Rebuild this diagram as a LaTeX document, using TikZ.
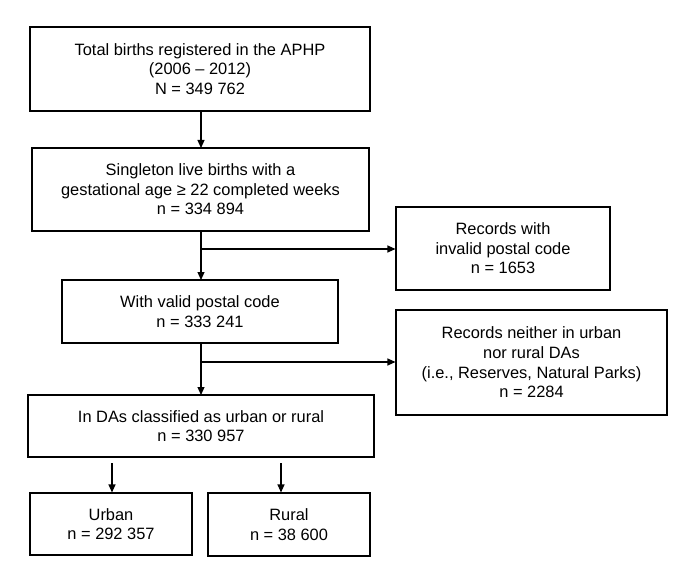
\documentclass[tikz,border=0pt]{standalone}
\usepackage{fontspec}
\setmainfont{Liberation Sans}
\usetikzlibrary{arrows.meta}
\begin{document}
\begin{tikzpicture}[x=1pt,y=-1pt,
  box/.style={draw, line width=1.1pt, align=center, inner sep=0pt,
    font=\fontsize{16.4}{19.6}\selectfont},
  arr/.style={line width=1.1pt, -{Triangle[length=8pt,width=7pt]}},
  ln/.style={line width=1.1pt}]
\useasboundingbox (0,0) rectangle (696,580);
\node[box, minimum width=340, minimum height=84] (top) at (200,69)
  {Total births registered in the APHP\\(2006 – 2012)\\N = 349 762};
\node[box, minimum width=337, minimum height=83] (s) at (200.5,189.5)
  {Singleton live births with a\\gestational age ≥ 22 completed weeks\\n = 334 894};
\node[box, minimum width=214, minimum height=83] (r1) at (503,248.5)
  {Records with\\invalid postal code\\n = 1653};
\node[box, minimum width=276, minimum height=63] (v) at (200,311.5)
  {With valid postal code\\n = 333 241};
\node[box, minimum width=271, minimum height=105] (r2) at (531.5,362.5)
  {Records neither in urban\\nor rural DAs\\(i.e., Reserves, Natural Parks)\\n = 2284};
\node[box, minimum width=346, minimum height=62] (d) at (201,426)
  {In DAs classified as urban or rural\\n = 330 957};
\node[box, minimum width=162, minimum height=62] (u) at (111,524)
  {Urban\\n = 292 357};
\node[box, minimum width=162, minimum height=63] (ru) at (289,524.5)
  {Rural\\n = 38 600};
\draw[arr] (top.south -| 201,0) -- (201,148);
\draw[arr] (201,231) -- (201,280);
\coordinate (b1) at (201,249);
\draw[arr] (b1) -- (b1 -| r1.west);
\draw[arr] (201,343) -- (201,395);
\coordinate (b2) at (201,362);
\draw[arr] (b2) -- (b2 -| r2.west);
\coordinate (ua) at (112,463);
\coordinate (ra) at (281,463);
\draw[arr] (ua) -- (ua |- u.north);
\draw[arr] (ra) -- (ra |- ru.north);
\end{tikzpicture}
\end{document}
